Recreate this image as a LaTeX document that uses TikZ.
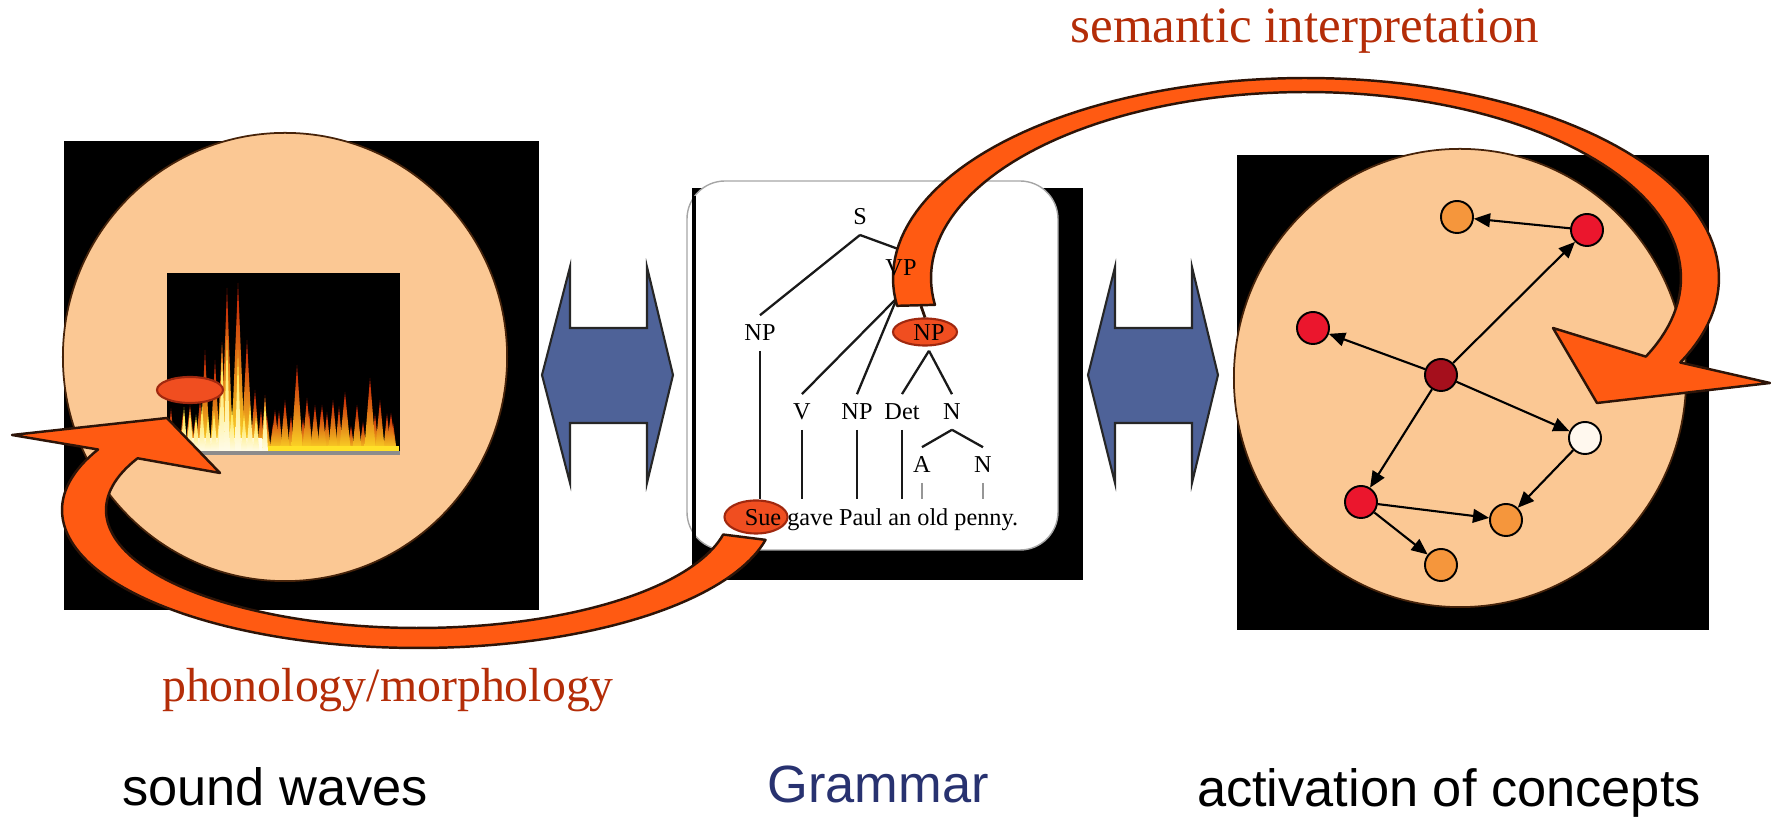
\documentclass[tikz,border=0pt]{standalone}
\usepackage{fontspec}
\setmainfont{Liberation Serif}
\setsansfont{Liberation Sans}
\usetikzlibrary{arrows.meta,shapes.geometric}
\pgfdeclarelayer{back}
\pgfdeclarelayer{mid}
\pgfsetlayers{back,mid,main}

\definecolor{peach}{RGB}{251,200,148}
\definecolor{discEdge}{RGB}{70,35,10}
\definecolor{arrowOrange}{RGB}{255,90,18}
\definecolor{arrowEdge}{RGB}{45,20,8}
\definecolor{tagRed}{RGB}{240,78,32}
\definecolor{tagEdge}{RGB}{160,40,15}
\definecolor{linkBlue}{RGB}{78,98,152}
\definecolor{procRed}{RGB}{180,45,8}
\definecolor{gramBlue}{RGB}{40,50,112}
\definecolor{nodeOrange}{RGB}{245,150,60}
\definecolor{nodeRed}{RGB}{235,22,45}
\definecolor{nodeDark}{RGB}{165,15,28}
\definecolor{nodeLight}{RGB}{255,248,238}
\definecolor{fireRed}{RGB}{195,25,5}
\definecolor{fireOrange}{RGB}{245,110,0}
\definecolor{fireYellow}{RGB}{255,225,40}
\definecolor{fireWhite}{RGB}{255,252,235}

\begin{document}
\begin{tikzpicture}[x=0.01cm,y=-0.01cm,
  disc/.style={fill=peach, draw=discEdge, line width=0.5pt},
  treelbl/.style={font=\fontsize{6.9}{8}\selectfont, inner sep=2.8pt, outer sep=0pt},
  treeln/.style={draw={rgb,255:red,25;green,25;blue,25}, line width=0.65pt},
  leafln/.style={draw={rgb,255:red,150;green,150;blue,150}, line width=0.65pt},
  bigarrow/.style={fill=arrowOrange, draw=arrowEdge, line width=0.7pt, line join=round},
  tag/.style={ellipse, fill=tagRed, draw=tagEdge, line width=0.6pt, inner sep=0pt},
  concept/.style={circle, draw=black, line width=0.55pt, minimum size=0.32cm, inner sep=0pt},
  link/.style={draw=black, line width=0.6pt, -{Triangle[length=4.6pt,width=3.9pt]}},
  blockarrow/.style={fill=linkBlue, draw=black!85, line width=0.6pt, line join=miter},
  flame/.style={top color=fireRed, middle color=fireOrange, bottom color=fireYellow},
  glow/.style={top color=fireYellow, bottom color=fireWhite},
  caption/.style={font=\sffamily\fontsize{14.9}{17}\selectfont, anchor=base, inner sep=0pt},
  process/.style={text=procRed, anchor=base, inner sep=0pt}]
\useasboundingbox (0,0) rectangle (1771,819);

% ---------- parse tree labels (top layer) ----------
\node[treelbl] (tS)   at (860,217) {S};
\node[treelbl] (tVP)  at (901,268) {VP};
\node[treelbl] (tNPa) at (760,333) {NP};
\node[treelbl] (tNPb) at (929,333) {NP};
\node[treelbl] (tV)   at (802,412) {V};
\node[treelbl] (tNPc) at (857,412) {NP};
\node[treelbl] (tDet) at (902,412) {Det};
\node[treelbl] (tN)   at (952,412) {N};
\node[treelbl] (tA)   at (922,465) {A};
\node[treelbl] (tNb)  at (983,465) {N};
\node[treelbl, anchor=base west] (sent) at (735,526) {Sue gave Paul an old penny.};
\coordinate (vpfoot) at (897,298);

% ---------- captions ----------
\node[caption] (capSound) at (275,806) {sound waves};
\node[caption, text=gramBlue] (capGram) at (878,803) {Grammar};
\node[caption] (capAct) at (1449,807) {activation of concepts};
\node[process, font=\fontsize{14.5}{16}\selectfont] (labSem) at (1305,43) {semantic interpretation};
\node[process, font=\fontsize{13.6}{16}\selectfont] (labPho) at (388,702) {phonology/morphology};

\begin{pgfonlayer}{back}
  % panel backgrounds
  \fill[black] (64,141) rectangle (539,610);
  \fill[black] (1237,155) rectangle (1709,630);
  \fill[black] (692,188) rectangle (1083,580);
  \path[disc] (285,357) ellipse [x radius=2.22cm, y radius=2.24cm];
  \path[disc] (1460,378) ellipse [x radius=2.26cm, y radius=2.29cm];
  \filldraw[fill=white, draw=black!35, line width=0.4pt, rounded corners=0.38cm]
    (687,181) rectangle (1058,550);
  \draw[black, line width=1.2pt] (694,196) -- (694,552);

  % spectrogram
  \fill[black] (167,273) rectangle (400,453);
  \foreach \sx in {171,177,...,397} {
    \pgfmathsetmacro\py{417+8*sin(\sx*23)+5*cos(\sx*41)}
    \shade[flame] ({\sx-4},453) -- (\sx,\py) -- ({\sx+4},453) -- cycle;
  }
  \foreach \sx/\sy/\w in {190/405/5,200/400/5,205/350/5,215/360/5,222/342/5,227/288/6,
                          238/283/7,247/340/6,255/390/5,265/395/4,275/410/5,285/400/5,
                          297/365/6,307/398/5,315/405/5,322/405/5,333/400/5,345/392/6,
                          357/405/5,370/378/6,380/400/5,391/413/5} {
    \shade[flame] ({\sx-\w},453) -- (\sx,\sy) -- ({\sx+\w},453) -- cycle;
  }
  \fill[fireYellow] (168,446) rectangle (399,453);
  \fill[fireWhite] (183,438) rectangle (262,452);
  \foreach \sx in {184,190,...,260} {
    \pgfmathsetmacro\py{410+6*sin(\sx*37)}
    \shade[glow] ({\sx-3.5},452) -- (\sx,\py) -- ({\sx+3.5},452) -- cycle;
  }
  \foreach \sx/\sy in {222/345,227/330,238/350,265/398} {
    \shade[glow] ({\sx-3},452) -- (\sx,\sy) -- ({\sx+3},452) -- cycle;
  }
  \draw[black!45, line width=1pt] (167,453) -- (400,453);

  % concept network
  \node[concept, fill=nodeOrange] (c1) at (1457,217) {};
  \node[concept, fill=nodeRed]    (c2) at (1587,230) {};
  \node[concept, fill=nodeRed]    (c3) at (1313,328) {};
  \node[concept, fill=nodeDark]   (c0) at (1441,375) {};
  \node[concept, fill=nodeLight]  (c4) at (1585,438) {};
  \node[concept, fill=nodeRed]    (c5) at (1361,502) {};
  \node[concept, fill=nodeOrange] (c6) at (1506,520) {};
  \node[concept, fill=nodeOrange] (c7) at (1441,565) {};
  \draw[link] (c2) -- (c1);
  \draw[link] (c0) -- (c2);
  \draw[link] (c0) -- (c3);
  \draw[link] (c0) -- (c4);
  \draw[link] (c0) -- (c5);
  \draw[link] (c4) -- (c6);
  \draw[link] (c5) -- (c6);
  \draw[link] (c5) -- (c7);

  % two-way block arrows between the panels
  \path[blockarrow] (542,375) -- (570,267) -- (570,328) -- (647,328) -- (647,267)
    -- (673,375) -- (647,483) -- (647,423) -- (570,423) -- (570,483) -- cycle;
  \path[blockarrow] (1088,375) -- (1115,267) -- (1115,328) -- (1192,328) -- (1192,267)
    -- (1218,375) -- (1192,483) -- (1192,423) -- (1115,423) -- (1115,483) -- cycle;

  % parse tree branches
  \draw[treeln] (tS.south) -- (tNPa.north);
  \draw[treeln] (tS.south) -- (tVP.north);
  \draw[treeln] (vpfoot) -- (tV.north);
  \draw[treeln] (vpfoot) -- (tNPc.north);
  \draw[treeln] (tNPb.south) -- (tDet.north);
  \draw[treeln] (tNPb.south) -- (tN.north);
  \draw[treeln] (tN.south) -- (tA.north);
  \draw[treeln] (tN.south) -- (tNb.north);
  \draw[treeln] (tNPa.south) -- (tNPa.south |- sent.north);
  \draw[treeln] (tV.south) -- (tV.south |- sent.north);
  \draw[treeln] (tNPc.south) -- (tNPc.south |- sent.north);
  \draw[treeln] (tDet.south) -- (tDet.south |- sent.north);
  \draw[leafln] (tA.south) -- (tA.south |- sent.north);
  \draw[leafln] (tNb.south) -- (tNb.south |- sent.north);
\end{pgfonlayer}

\begin{pgfonlayer}{mid}
  % semantic interpretation: from VP over the top to the concept network
  \path[bigarrow]
    plot[variable=\t, domain=172:385, samples=110] ({1306+413*cos(\t)},{278+200*sin(\t)})
    -- (1770,383) -- (1597,403) -- (1553,328)
    -- plot[variable=\t, domain=385:171.7, samples=110] ({1306+375*cos(\t)},{278+186*sin(\t)})
    -- cycle;
  % phonology/morphology: from the sentence round the bottom to the sound wave
  \path[bigarrow]
    plot[variable=\t, domain=12.5:206, samples=110] ({418+356*cos(\t)},{510+138*sin(\t)})
    -- (12,435) -- (167,418) -- (220,473)
    -- plot[variable=\t, domain=206:12, samples=110] ({418+312*cos(\t)},{510+118*sin(\t)})
    -- cycle;

  \node[tag, minimum width=0.64cm, minimum height=0.27cm] (npTag) at (925,332) {};
  \node[tag, minimum width=0.63cm, minimum height=0.33cm] (sueTag) at (756,517) {};
  \node[tag, minimum width=0.66cm, minimum height=0.26cm] (waveTag) at (190,390) {};
  \coordinate (semFoot) at (921,306);
  \draw[arrowEdge, line width=0.8pt] (semFoot) -- (npTag.north);
\end{pgfonlayer}
\end{tikzpicture}
\end{document}
